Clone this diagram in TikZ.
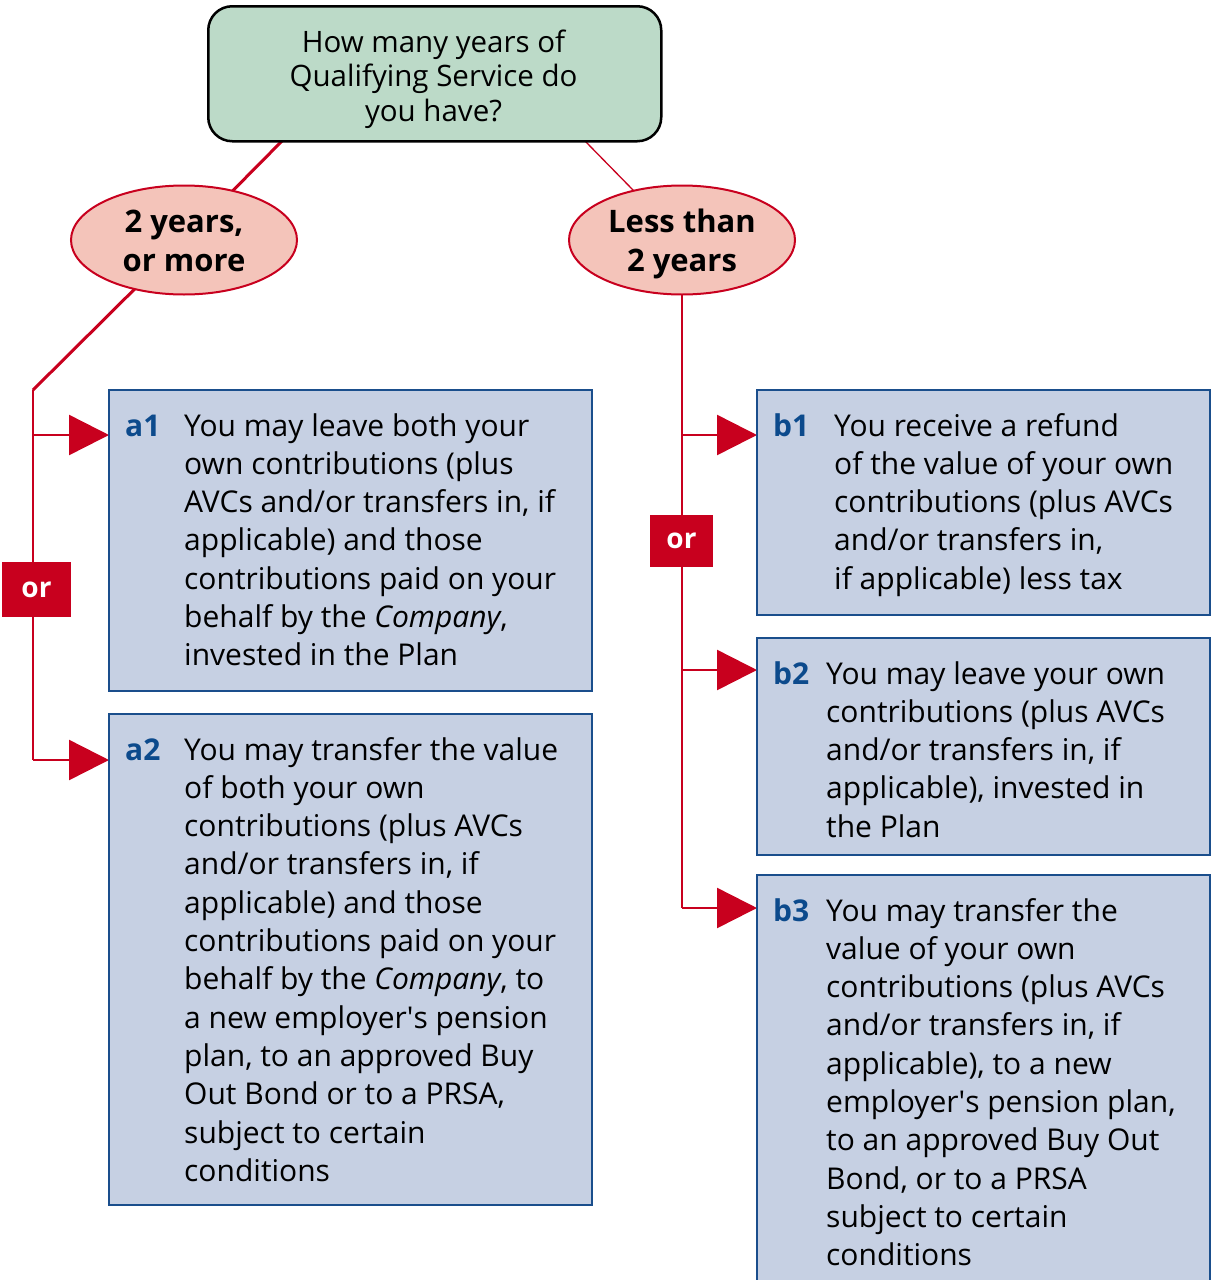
\documentclass[tikz,border=0pt]{standalone}
\usepackage{fontspec}
\setmainfont{Open Sans}
\usetikzlibrary{arrows.meta,shapes.geometric,backgrounds}
\definecolor{lred}{RGB}{200,0,30}
\definecolor{boxfill}{RGB}{198,208,227}
\definecolor{boxline}{RGB}{26,78,140}
\definecolor{lblue}{RGB}{12,74,140}
\definecolor{topfill}{RGB}{188,218,200}
\definecolor{pinkfill}{RGB}{244,196,186}
\newcommand\bodyfont{\fontsize{30}{38.3}\selectfont}
\newcommand\bodypar[1]{\parbox[t]{450pt}{\raggedright #1}}
\newcommand\aps{\textquotesingle}
\begin{document}
\begin{tikzpicture}[x=1pt,y=-1pt,
  infobox/.style={draw=boxline, line width=2.5pt, fill=boxfill, rectangle, anchor=north west, inner sep=0, outer sep=0},
  body/.style={anchor=base west, inner sep=0, font=\bodyfont},
  lbl/.style={anchor=base west, inner sep=0, font=\bodyfont\bfseries, text=lblue},
  ell/.style={ellipse, draw=lred, line width=2pt, fill=pinkfill, minimum width=226pt, minimum height=109pt, inner sep=0},
  elltext/.style={anchor=base, inner sep=0, font=\fontsize{31}{39}\selectfont\bfseries},
  topbox/.style={rectangle, rounded corners=24pt, draw=black, line width=2.5pt, fill=topfill, minimum width=453pt, minimum height=135pt, anchor=north west, inner sep=0},
  toptext/.style={anchor=base, inner sep=0, font=\fontsize{29.5}{34.5}\selectfont},
  orbox/.style={rectangle, fill=lred, text=white, font=\fontsize{28}{30}\selectfont\bfseries, inner sep=0},
  conn/.style={draw=lred, line width=2.5pt},
  tip/.style={-{Triangle[length=40pt,width=40pt]}}
]
\useasboundingbox (0,0) rectangle (1212,1280);

% top question
\node[topbox] (top) at (207,5) {};
\node[toptext] (toptxt) at (433.5,52) {\parbox[t]{440pt}{\centering How many years of\\Qualifying Service do\\you have?}};

% ellipses
\node[ell] (L) at (184,240) {};
\node[ell] (R) at (682,240) {};
\node[elltext] (Ltxt) at (184,232) {\parbox[t]{220pt}{\centering 2 years,\\or more}};
\node[elltext] (Rtxt) at (682,232) {\parbox[t]{220pt}{\centering Less than\\2 years}};

% boxes
\node[infobox, minimum width=483pt, minimum height=301pt] (a1) at (109,390) {};
\node[infobox, minimum width=483pt, minimum height=491pt] (a2) at (109,714) {};
\node[infobox, minimum width=453pt, minimum height=225pt] (b1) at (757,390) {};
\node[infobox, minimum width=453pt, minimum height=217pt] (b2) at (757,638) {};
\node[infobox, minimum width=453pt, minimum height=420pt] (b3) at (757,875) {};

% labels
\node[lbl] (la1) at (125,436) {a1};
\node[lbl] (la2) at (125,760) {a2};
\node[lbl] (lb1) at (773,436) {b1};
\node[lbl] (lb2) at (773,684) {b2};
\node[lbl] (lb3) at (773,921) {b3};

% texts
\node[body] (ta1) at (184,436) {\bodypar{You may leave both your\\own contributions (plus\\AVCs and/or transfers in, if\\applicable) and those\\contributions paid on your\\behalf by the \textit{Company},\\invested in the Plan}};
\node[body] (ta2) at (184,760) {\bodypar{You may transfer the value\\of both your own\\contributions (plus AVCs\\and/or transfers in, if\\applicable) and those\\contributions paid on your\\behalf by the \textit{Company}, to\\a new employer\aps s pension\\plan, to an approved Buy\\Out Bond or to a PRSA,\\subject to certain\\conditions}};
\node[body] (tb1) at (834,436) {\bodypar{You receive a refund\\of the value of your own\\contributions (plus AVCs\\and/or transfers in,\\if applicable) less tax}};
\node[body] (tb2) at (826,684) {\bodypar{You may leave your own\\contributions (plus AVCs\\and/or transfers in, if\\applicable), invested in\\the Plan}};
\node[body] (tb3) at (826,921) {\bodypar{You may transfer the\\value of your own\\contributions (plus AVCs\\and/or transfers in, if\\applicable), to a new\\employer\aps s pension plan,\\to an approved Buy Out\\Bond, or to a PRSA\\subject to certain\\conditions}};

% or boxes
\node[orbox, minimum width=69pt, minimum height=55pt] (orL) at (36.5,589.5) {or};
\node[orbox, minimum width=63pt, minimum height=52pt] (orR) at (681.5,541) {or};

% connectors
\coordinate (t1) at (282,141);
\coordinate (t2) at (585,141);
\coordinate (Lc) at (33,390);
\coordinate (La1) at (33,435);
\coordinate (La2) at (33,760);
\coordinate (Rb1) at (682,435);
\coordinate (Rb2) at (682,670);
\coordinate (Rb3) at (682,908);
\begin{scope}[on background layer]
\draw[conn, line width=3pt] (t1) -- (L.center);
\draw[conn, line width=1.3pt] (t2) -- (R.center);
\draw[conn, line width=3pt] (L.center) -- (Lc);
\draw[conn] (Lc) -- (La2);
\draw[conn, tip] (La1) -- (La1 -| a1.west);
\draw[conn, tip] (La2) -- (La2 -| a2.west);
\draw[conn] (R.center) -- (Rb3);
\draw[conn, tip] (Rb1) -- (Rb1 -| b1.west);
\draw[conn, tip] (Rb2) -- (Rb2 -| b2.west);
\draw[conn, tip] (Rb3) -- (Rb3 -| b3.west);
\end{scope}
\end{tikzpicture}
\end{document}
